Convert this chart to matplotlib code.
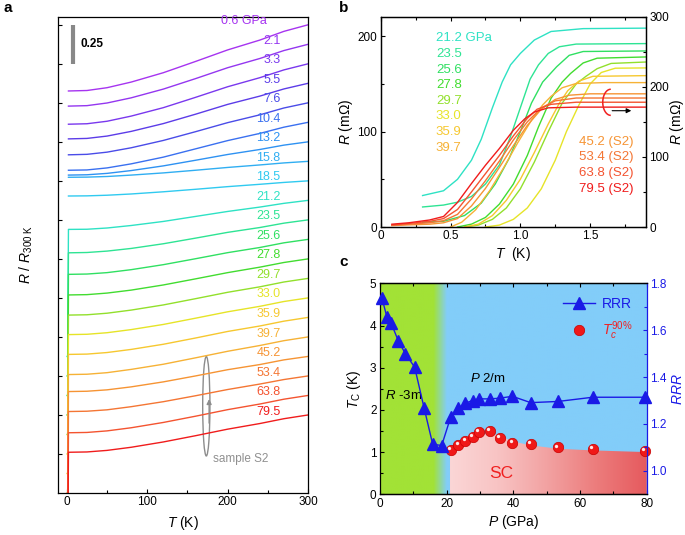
import matplotlib
matplotlib.use("Agg")
import matplotlib.pyplot as plt
import matplotlib.transforms as mtransforms
import numpy as np
from matplotlib.patches import Ellipse, Polygon
from matplotlib.colors import to_rgb

plt.rcParams['font.family'] = ['Liberation Sans', 'DejaVu Sans']
plt.rcParams['mathtext.fontset'] = 'custom'
plt.rcParams['mathtext.rm'] = 'Liberation Sans'
plt.rcParams['mathtext.it'] = 'Liberation Sans:italic'
plt.rcParams['mathtext.bf'] = 'Liberation Sans:bold'
plt.rcParams['axes.linewidth'] = 0.9

# ---------------- data ----------------
pressures = [0.6, 2.1, 3.3, 5.5, 7.6, 10.4, 13.2, 15.8, 18.5, 21.2, 23.5,
             25.6, 27.8, 29.7, 33.0, 35.9, 39.7, 45.2, 53.4, 63.8, 79.5]
pressure_labels = ['0.6 GPa', '2.1', '3.3', '5.5', '7.6', '10.4', '13.2', '15.8',
                   '18.5', '21.2', '23.5', '25.6', '27.8', '29.7', '33.0', '35.9',
                   '39.7', '45.2', '53.4', '63.8', '79.5']
colors = ['#a634f0', '#9436f0', '#7a38ee', '#5c3ce8', '#4a4ce8', '#3a70f0', '#2e92f2',
          '#30aef2', '#30caf0', '#2ee2c4', '#2ee494', '#30e062', '#42dc30', '#92e02c',
          '#e6e428', '#f6c830', '#f6b236', '#f69434', '#f47634', '#f45430', '#f01c1c']

# panel a: R/R300K vs T (K), one row per pressure
a_T = [2, 25, 50, 80, 120, 160, 200, 240, 270, 300]
a_ratio = [
    [0.576, 0.579, 0.597, 0.633, 0.693, 0.765, 0.839, 0.902, 0.958, 1.0],
    [0.604, 0.607, 0.624, 0.657, 0.713, 0.780, 0.850, 0.909, 0.960, 1.0],
    [0.613, 0.616, 0.632, 0.665, 0.719, 0.785, 0.853, 0.911, 0.961, 1.0],
    [0.644, 0.647, 0.662, 0.692, 0.742, 0.802, 0.865, 0.918, 0.964, 1.0],
    [0.667, 0.670, 0.684, 0.712, 0.759, 0.815, 0.873, 0.923, 0.967, 1.0],
    [0.693, 0.695, 0.708, 0.734, 0.777, 0.830, 0.883, 0.929, 0.969, 1.0],
    [0.787, 0.789, 0.798, 0.816, 0.846, 0.882, 0.919, 0.951, 0.979, 1.0],
    [0.898, 0.899, 0.903, 0.912, 0.926, 0.943, 0.961, 0.977, 0.990, 1.0],
    [0.903, 0.904, 0.908, 0.916, 0.930, 0.946, 0.963, 0.978, 0.990, 1.0],
    [0.814, 0.815, 0.823, 0.839, 0.865, 0.897, 0.929, 0.957, 0.981, 1.0],
    [0.789, 0.791, 0.800, 0.817, 0.847, 0.883, 0.920, 0.951, 0.979, 1.0],
    [0.776, 0.778, 0.787, 0.806, 0.838, 0.876, 0.915, 0.948, 0.978, 1.0],
    [0.769, 0.771, 0.781, 0.800, 0.833, 0.872, 0.912, 0.947, 0.977, 1.0],
    [0.765, 0.767, 0.777, 0.797, 0.830, 0.870, 0.911, 0.946, 0.977, 1.0],
    [0.765, 0.767, 0.777, 0.797, 0.830, 0.870, 0.911, 0.946, 0.977, 1.0],
    [0.763, 0.765, 0.775, 0.795, 0.828, 0.868, 0.910, 0.945, 0.976, 1.0],
    [0.759, 0.761, 0.771, 0.792, 0.825, 0.866, 0.908, 0.945, 0.976, 1.0],
    [0.775, 0.777, 0.786, 0.805, 0.837, 0.875, 0.915, 0.948, 0.978, 1.0],
    [0.772, 0.774, 0.783, 0.803, 0.835, 0.873, 0.913, 0.948, 0.977, 1.0],
    [0.761, 0.763, 0.773, 0.793, 0.827, 0.867, 0.909, 0.945, 0.976, 1.0],
    [0.761, 0.763, 0.773, 0.793, 0.827, 0.867, 0.909, 0.945, 0.976, 1.0],
]
# superconducting samples are zero below ~1 K
a_T_sc = [0.3, 1.0]
a_ratio_sc = [0.0, 0.0]

# panel b: low-T transitions, R (mOhm)
b_left_labels = ['21.2 GPa', '23.5', '25.6', '27.8', '29.7', '33.0', '35.9', '39.7']
b_left_T = [
    [0.30, 0.45, 0.55, 0.65, 0.72, 0.80, 0.87, 0.93, 1.00, 1.10, 1.22, 1.45, 1.90],
    [0.30, 0.45, 0.55, 0.65, 0.75, 0.85, 0.93, 1.00, 1.07, 1.13, 1.20, 1.28, 1.40, 1.90],
    [0.30, 0.45, 0.60, 0.72, 0.82, 0.92, 1.00, 1.08, 1.16, 1.26, 1.35, 1.45, 1.90],
    [0.55, 0.65, 0.75, 0.85, 0.95, 1.05, 1.13, 1.22, 1.30, 1.36, 1.45, 1.55, 1.90],
    [0.60, 0.70, 0.80, 0.90, 1.00, 1.10, 1.20, 1.30, 1.40, 1.47, 1.55, 1.65, 1.90],
    [0.75, 0.85, 0.95, 1.05, 1.15, 1.25, 1.33, 1.42, 1.50, 1.58, 1.68, 1.90],
    [0.60, 0.70, 0.80, 0.90, 1.00, 1.10, 1.20, 1.28, 1.34, 1.42, 1.52, 1.90],
    [0.50, 0.58, 0.68, 0.78, 0.88, 0.98, 1.08, 1.16, 1.22, 1.30, 1.40, 1.60, 1.90],
]
b_left_R = [
    [33, 38, 50, 70, 92, 125, 152, 170, 182, 196, 205, 208, 208.5],
    [21, 23, 26, 32, 45, 65, 95, 125, 155, 170, 182, 189, 191.8, 192.3],
    [5, 6, 12, 25, 45, 72, 100, 130, 152, 168, 180, 184, 184.6],
    [0, 3, 10, 24, 45, 75, 105, 135, 152, 161, 172, 177, 178.3],
    [0, 2, 8, 20, 40, 68, 100, 130, 150, 158, 166, 171.5, 173],
    [0, 2, 8, 20, 40, 70, 100, 128, 150, 162, 166.5, 166.8],
    [0, 3, 12, 28, 50, 78, 108, 130, 143, 153, 158, 158.7],
    [0, 5, 18, 38, 62, 88, 112, 128, 137, 146, 150.5, 151.4, 151.4],
]
b_right_labels = ['45.2 (S2)', '53.4 (S2)', '63.8 (S2)', '79.5 (S2)']
b_right_T = [
    [0.08, 0.20, 0.35, 0.45, 0.55, 0.65, 0.75, 0.85, 0.95, 1.05, 1.15, 1.25, 1.35, 1.50, 1.90],
    [0.08, 0.20, 0.35, 0.45, 0.55, 0.65, 0.75, 0.85, 0.95, 1.05, 1.15, 1.25, 1.40, 1.90],
    [0.08, 0.20, 0.35, 0.45, 0.55, 0.65, 0.75, 0.85, 0.95, 1.05, 1.12, 1.22, 1.40, 1.90],
    [0.08, 0.20, 0.35, 0.45, 0.55, 0.65, 0.75, 0.85, 0.95, 1.03, 1.10, 1.20, 1.40, 1.90],
]
b_right_R = [
    [2, 3, 4, 6, 12, 30, 55, 85, 116, 145, 168, 182, 188, 190, 190],
    [2.5, 4, 6, 9, 18, 40, 66, 94, 124, 150, 170, 180, 184, 184],
    [3, 5, 8, 12, 25, 50, 76, 102, 130, 155, 168, 175, 178, 178],
    [4, 6, 10, 15, 35, 62, 88, 112, 138, 154, 164, 170, 171, 171],
]

# panel c: phase diagram
rrr_p = [0.6, 2.1, 3.3, 5.5, 7.6, 10.4, 13.2, 15.8, 18.5, 21.2, 23.5,
         25.6, 27.8, 29.7, 33.0, 35.9, 39.7, 45.2, 53.4, 63.8, 79.5]
rrr = [1.736, 1.655, 1.632, 1.554, 1.500, 1.442, 1.270, 1.114, 1.108, 1.229, 1.267,
       1.289, 1.300, 1.307, 1.307, 1.310, 1.318, 1.291, 1.296, 1.314, 1.314]
tc_p = [21.2, 23.5, 25.6, 27.8, 29.7, 33.0, 35.9, 39.7, 45.2, 53.4, 63.8, 79.5]
tc_90 = [1.05, 1.18, 1.26, 1.36, 1.47, 1.50, 1.34, 1.22, 1.20, 1.11, 1.07, 1.03]
sc_edge_p = [21.0, 23.5, 25.6, 27.8, 29.7, 33.0, 36.0, 40.0, 45.2, 53.4, 63.8, 80.0]
sc_edge_tc = [1.00, 1.12, 1.20, 1.30, 1.40, 1.45, 1.38, 1.25, 1.16, 1.08, 1.04, 1.00]

# ---------------- layout ----------------
W, H = 685, 535
fig = plt.figure(figsize=(W / 100, H / 100), dpi=100)


def box(l, t, r, b):
    return [l / W, 1 - b / H, (r - l) / W, (b - t) / H]


axa = fig.add_axes(box(58, 17, 308, 493))
axb = fig.add_axes(box(380.7, 16.7, 646, 227))
axc = fig.add_axes(box(380, 283.3, 646.7, 494.3))

tick_fs = 8.5
lab_fs = 10


def style_ticks(ax):
    ax.tick_params(direction='in', labelsize=tick_fs, length=3, width=0.8, pad=2.5)
    ax.tick_params(which='minor', direction='in', length=2, width=0.8)


# ---------------- panel a ----------------
for i, p in enumerate(pressures):
    top = 3.0 - 0.125 * i
    off = top - 1.0
    T = list(a_T)
    R = list(a_ratio[i])
    if p > 20:
        T = a_T_sc + T
        R = a_ratio_sc + R
    axa.plot(T, np.array(R) + off, color=colors[i], lw=1.0)
    axa.text(249 if i == 0 else 266, top + 0.022, pressure_labels[i], color=colors[i],
             ha='right', va='center', fontsize=9)

axa.set_xlim(-11, 300)
axa.set_ylim(0, 3.05)
axa.set_xticks([0, 100, 200, 300])
axa.set_xticks([50, 150, 250], minor=True)
axa.set_yticks(np.arange(0.25, 3.01, 0.25))
axa.set_yticklabels([])
style_ticks(axa)
axa.set_xlabel('$T$ (K)', fontsize=lab_fs, labelpad=4)
axa.set_ylabel(r'$R$ / $R_{\mathrm{300\ K}}$', fontsize=lab_fs, labelpad=14)

axa.plot([7.5, 7.5], [2.75, 3.0], color='#888888', lw=3, solid_capstyle='butt')
axa.text(17, 2.88, '0.25', fontsize=8.5, fontweight='bold', ha='left', va='center')

axa.add_patch(Ellipse((173.5, 0.556), 9, 0.637, fill=False, ec='#8c8c8c', lw=1))
axa.annotate('', xy=(177, 0.62), xytext=(177, 0.43),
             arrowprops=dict(arrowstyle='-|>', color='#8c8c8c', lw=1, mutation_scale=7))
axa.text(182, 0.218, 'sample S2', color='#909090', fontsize=8.5, ha='left', va='center')

# ---------------- panel b ----------------
axb2 = axb.twinx()
for k in range(len(b_left_T)):
    axb.plot(b_left_T[k], b_left_R[k], color=colors[9 + k], lw=1.0)
    axb.text(0.208, 0.897 - 0.0743 * k, b_left_labels[k], color=colors[9 + k],
             transform=axb.transAxes, ha='left', va='center', fontsize=9.5)
for k in range(len(b_right_T)):
    axb2.plot(b_right_T[k], b_right_R[k], color=colors[17 + k], lw=1.0)
    axb.text(0.749, 0.406 - 0.0753 * k, b_right_labels[k], color=colors[17 + k],
             transform=axb.transAxes, ha='left', va='center', fontsize=9.5)

axb.set_xlim(0, 1.9)
axb.set_ylim(0, 220.5)
axb2.set_ylim(0, 300)
axb.set_xticks([0, 0.5, 1.0, 1.5])
axb.set_xticklabels(['0', '0.5', '1.0', '1.5'])
axb.set_xticks([0.25, 0.75, 1.25, 1.75], minor=True)
axb.set_yticks([0, 100, 200])
axb.set_yticks([50, 150], minor=True)
axb2.set_yticks([0, 100, 200, 300])
axb2.set_yticks([50, 150, 250], minor=True)
style_ticks(axb)
style_ticks(axb2)
axb.tick_params(which='both', top=True)
axb.set_xlabel('$T$  (K)', fontsize=lab_fs, labelpad=2)
axb.set_ylabel(r'$R$ (m$\Omega$)', fontsize=lab_fs, labelpad=2)
axb2.set_ylabel(r'$R$ (m$\Omega$)', fontsize=lab_fs, labelpad=-1, rotation=90)

# "(" bracket around the S2 curves, drawn in axes-fraction units, with arrow to the right axis
ang = np.radians(np.linspace(95, 265, 40))
axb2.plot(0.867 + 0.03 * np.cos(ang), 0.593 + 0.062 * np.sin(ang),
          color='#f02020', lw=1.1, transform=axb2.transAxes, zorder=6)
axb2.annotate('', xy=(0.955, 0.553), xytext=(0.862, 0.553), xycoords='axes fraction',
              arrowprops=dict(arrowstyle='-|>', color='k', lw=0.8, mutation_scale=7))

# ---------------- panel c ----------------
green = np.array(to_rgb('#a2e236'))
blue_bg = np.array(to_rgb('#82cdf9'))
px = np.linspace(0, 80, 400)
mix = np.clip((px - 16) / 4.0, 0, 1)[:, None]
bg = ((1 - mix) * green + mix * blue_bg)[None, :, :]
axc.imshow(bg, extent=[0, 80, 0, 5], aspect='auto', zorder=0, interpolation='bilinear')

stops_p = [21, 35, 50, 65, 80]
stops_c = [to_rgb(c) for c in ['#fbd6d6', '#f8c4c4', '#f2a2a2', '#ec7c7c', '#e65a5e']]
gp = np.linspace(21, 80, 300)
grad = np.stack([np.interp(gp, stops_p, [c[j] for c in stops_c]) for j in range(3)], axis=1)[None, :, :]
sc_im = axc.imshow(grad, extent=[21, 80, 0, 5], aspect='auto', zorder=1, interpolation='bilinear')
sc_poly = Polygon(np.column_stack([[21.0] + sc_edge_p + [80.0], [0.0] + sc_edge_tc + [0.0]]),
                  closed=True, transform=axc.transData, facecolor='none', edgecolor='none')
axc.add_patch(sc_poly)
sc_im.set_clip_path(sc_poly)

axc2 = axc.twinx()
blue = '#1a1ae6'
h_rrr, = axc2.plot(rrr_p, rrr, '-^', color=blue, ms=8, lw=1.0, clip_on=False, zorder=5)
h_tc, = axc.plot(tc_p, tc_90, 'o', ms=7.5, mfc='#f01818', mec='#c80000', mew=0.5,
                 zorder=4, clip_on=False)
hl = mtransforms.offset_copy(axc.transData, fig=fig, x=-1.3, y=1.3, units='points')
axc.plot(tc_p, tc_90, 'o', ms=2.4, mfc='#ffe8e8', mec='none', transform=hl, zorder=4.5, clip_on=False)

axc.set_xlim(0, 80)
axc.set_ylim(0, 5)
axc2.set_ylim(0.9, 1.8)
axc.set_xticks([0, 20, 40, 60, 80])
axc.set_xticks([10, 30, 50, 70], minor=True)
axc.set_yticks([0, 1, 2, 3, 4, 5])
axc.set_yticks(np.arange(0.5, 5, 1.0), minor=True)
axc2.set_yticks([1.0, 1.2, 1.4, 1.6, 1.8])
axc2.set_yticks([1.1, 1.3, 1.5, 1.7], minor=True)
style_ticks(axc)
style_ticks(axc2)
axc.tick_params(which='both', top=True)
axc2.tick_params(axis='y', which='both', colors=blue)
axc2.spines['right'].set_color(blue)
axc.spines['right'].set_visible(False)
axc2.spines['left'].set_visible(False)
axc.set_xlabel('$P$ (GPa)', fontsize=lab_fs, labelpad=2)
axc.set_ylabel(r'$T_{\mathrm{C}}$ (K)', fontsize=lab_fs, labelpad=5)
axc2.set_ylabel('$RRR$', fontsize=lab_fs, color=blue, labelpad=3)

axc.text(1.5, 2.35, '$R$ -3m', fontsize=9.5, ha='left', va='center', zorder=6)
axc.text(27, 2.75, '$P$ 2/m', fontsize=9.5, ha='left', va='center', zorder=6)
axc.text(36.5, 0.5, 'SC', fontsize=12.5, color='#f02020', ha='center', va='center', zorder=6)

axc2.legend([h_rrr, h_tc], ['RRR', r'$T_c^{\mathit{90\%}}$'], loc='upper right',
            frameon=False, labelcolor=[blue, '#f02020'], fontsize=10,
            handlelength=2.3, labelspacing=0.6, borderaxespad=0.6, handletextpad=0.5)

fig.text(4 / W, 1 - 8 / H, 'a', fontsize=11, fontweight='bold', va='center')
fig.text(339 / W, 1 - 8 / H, 'b', fontsize=11, fontweight='bold', va='center')
fig.text(339 / W, 1 - 262 / H, 'c', fontsize=11, fontweight='bold', va='center')

fig.savefig('out.png', dpi=100)
